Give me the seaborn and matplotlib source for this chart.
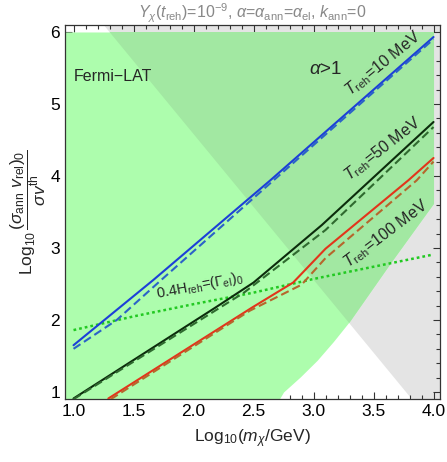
import numpy as np
import matplotlib
matplotlib.use('Agg')
import matplotlib.pyplot as plt
import seaborn as sns
from matplotlib.ticker import MultipleLocator

# --- data ---
# T_reh = 10 MeV
blue_x = [1.0, 1.665, 2.64, 4.0]
blue_y = [1.65, 2.556, 3.94, 5.93]
blue_dash_x = [1.0, 1.36, 1.72, 2.64, 4.0]
blue_dash_y = [1.60, 2.0, 2.54, 3.90, 5.90]
# T_reh = 50 MeV
dgreen_x = [1.0, 2.18, 2.5, 3.07, 4.0]
dgreen_y = [0.91, 2.17, 2.52, 3.32, 4.75]
dgreen_dash_x = [1.0, 2.42, 3.10, 4.0]
dgreen_dash_y = [0.90, 2.38, 3.25, 4.68]
# T_reh = 100 MeV
red_x = [1.29, 2.485, 2.83, 3.10, 3.79, 4.0]
red_y = [0.91, 2.17, 2.52, 2.99, 3.94, 4.25]
red_dash_x = [1.31, 2.47, 2.90, 3.10, 3.86, 4.0]
red_dash_y = [0.90, 2.13, 2.49, 2.86, 3.94, 4.20]
# 0.4 H_reh = (Gamma_el)_0
dot_x = [1.0, 1.5, 2.0, 2.5, 3.0, 3.5, 4.0]
dot_y = [1.86, 2.05, 2.22, 2.38, 2.57, 2.74, 2.91]

# Fermi-LAT excluded region: lower edge, top at y=6
fermi_x = [0.8, 2.70, 2.75, 2.89, 3.03, 3.165, 3.30, 3.64, 3.90, 4.0]
fermi_lo = [0.8, 0.86, 1.0, 1.21, 1.44, 1.70, 1.98, 2.79, 3.39, 3.62]
fermi_top = 6.0
# alpha > 1 region: everything above the straight edge
alpha_edge_x = [1.30, 3.82]
alpha_edge_y = [6.0, 0.9]

labels = ['10', '50', '100']

sns.set_theme(style='ticks')
plt.rcParams['font.family'] = ['Liberation Sans', 'DejaVu Sans']
plt.rcParams['mathtext.fontset'] = 'custom'
plt.rcParams['mathtext.rm'] = 'Liberation Sans'
plt.rcParams['mathtext.it'] = 'Liberation Sans:italic'
plt.rcParams['mathtext.bf'] = 'Liberation Sans:bold'

fig = plt.figure(figsize=(4.47, 4.62), dpi=100)
ax = fig.add_axes([65 / 447, 1 - 399 / 462, 375 / 447, 374 / 462])

# regions
gx = np.linspace(0.8, 4.3, 50)
slope = (alpha_edge_y[1] - alpha_edge_y[0]) / (alpha_edge_x[1] - alpha_edge_x[0])
g_lo = alpha_edge_y[0] + slope * (gx - alpha_edge_x[0])
gray = ax.fill_between(gx, g_lo, 7.0, color='#e4e4e4', lw=0, zorder=0.5)
ax.fill_between(fermi_x, fermi_lo, fermi_top, color='#adfdad', lw=0, zorder=0.6)
overlap = ax.fill_between(fermi_x, fermi_lo, fermi_top, color='#a2e8a2', lw=0, zorder=0.7)
overlap.set_clip_path(gray.get_paths()[0], ax.transData)

lw = 1.5
dash = (0, (4, 2))
sns.lineplot(x=dot_x, y=dot_y, ax=ax, color='#22c922', lw=1.8, linestyle=(0, (1.1, 1.2)), zorder=3)
sns.lineplot(x=blue_x, y=blue_y, ax=ax, color='#1c3fd8', lw=lw, zorder=4)
sns.lineplot(x=blue_dash_x, y=blue_dash_y, ax=ax, color='#2b62c8', lw=lw, linestyle=dash, zorder=4)
sns.lineplot(x=dgreen_x, y=dgreen_y, ax=ax, color='#0c2c0c', lw=lw, zorder=4)
sns.lineplot(x=dgreen_dash_x, y=dgreen_dash_y, ax=ax, color='#2f6a2f', lw=lw, linestyle=dash, zorder=4)
sns.lineplot(x=red_x, y=red_y, ax=ax, color='#e2351b', lw=lw, zorder=4)
sns.lineplot(x=red_dash_x, y=red_dash_y, ax=ax, color='#b6662c', lw=lw, linestyle=dash, zorder=4)

ax.set_xlim(0.929, 4.054)
ax.set_ylim(0.903, 6.097)
ax.xaxis.set_major_locator(MultipleLocator(0.5))
ax.xaxis.set_minor_locator(MultipleLocator(0.1))
ax.yaxis.set_major_locator(MultipleLocator(1))
ax.yaxis.set_minor_locator(MultipleLocator(0.2))
ax.tick_params(which='both', direction='in', top=True, right=True, width=0.8,
               color='#333333', labelsize=12.5, labelcolor='black')
ax.tick_params(which='major', length=5)
ax.tick_params(which='minor', length=2.6)
for s in ax.spines.values():
    s.set_color('#333333')
    s.set_linewidth(0.9)

# annotations
ax.text(1.0, 5.38, 'Fermi\u2212LAT', fontsize=11.5, ha='left', va='center')
ax.text(3.10, 5.48, r'$\alpha$>1', fontsize=13.5, ha='center', va='center')
ax.text(3.58, 5.56, r'$T_\mathrm{reh}$=' + labels[0] + ' MeV', fontsize=11.5,
        rotation=39, ha='center', va='center', rotation_mode='anchor')
ax.text(3.58, 4.38, r'$T_\mathrm{reh}$=' + labels[1] + ' MeV', fontsize=11.5,
        rotation=38, ha='center', va='center', rotation_mode='anchor')
ax.text(3.60, 3.20, r'$T_\mathrm{reh}$=' + labels[2] + ' MeV', fontsize=11.5,
        rotation=37, ha='center', va='center', rotation_mode='anchor')
ax.text(2.05, 2.48, r'0.4H$_\mathrm{reh}$=($\Gamma_\mathrm{el}$)$_0$', fontsize=10.5,
        rotation=11, ha='center', va='center', rotation_mode='anchor')

ax.set_title(r'$Y_\chi(t_\mathrm{reh})$=10$^{-9}$, $\alpha$=$\alpha_\mathrm{ann}$=$\alpha_\mathrm{el}$, $k_\mathrm{ann}$=0',
             color='#888888', fontsize=11.5, pad=5)
ax.set_xlabel(r'Log$_{10}$($m_\chi$/GeV)', fontsize=12.5, labelpad=6)
ax.set_ylabel(r'Log$_{10}$$\,\dfrac{(\sigma_\mathrm{ann}\ v_\mathrm{rel})_0}{\sigma v^\mathrm{th}}$',
              fontsize=12.5, labelpad=2)

fig.savefig('out.png', dpi=100)
